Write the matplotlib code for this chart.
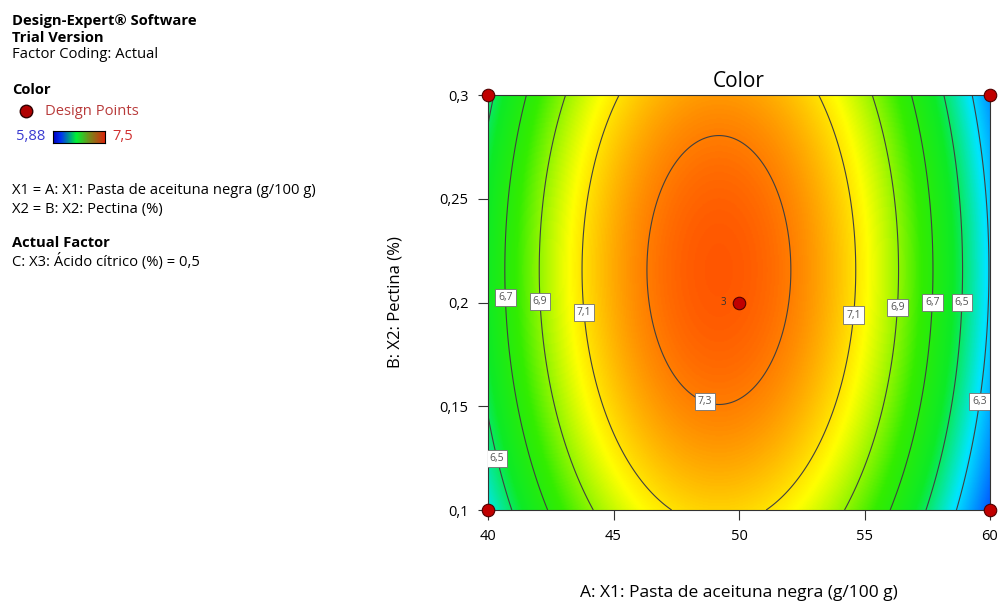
import numpy as np
import matplotlib
matplotlib.use('Agg')
import matplotlib.pyplot as plt
from matplotlib.colors import LinearSegmentedColormap

plt.rcParams['font.family'] = ['Open Sans', 'DejaVu Sans']

# factor ranges (actual units)
a_range = [40, 60]
b_range = [0.1, 0.3]

# fitted quadratic model in coded factors (C held at 0,5)
b0 = 7.366
bA = -0.149
bB = 0.057
bAB = 0.0
bAA = -0.93
bBB = -0.182

color_min = 5.88
color_max = 7.5

contour_levels = [6.3, 6.5, 6.7, 6.9, 7.1, 7.3]
label_pos = [(40.4, 0.125), (40.78, 0.2025), (42.16, 0.2004), (43.93, 0.1953),
             (48.78, 0.1566), (54.55, 0.194), (56.28, 0.1977), (57.7, 0.2),
             (58.9, 0.2), (59.57, 0.1525)]

design_a = [40, 40, 60, 60, 50]
design_b = [0.1, 0.3, 0.1, 0.3, 0.2]
design_n = [1, 1, 1, 1, 3]

x_ticks = [40, 45, 50, 55, 60]
y_ticks = [0.1, 0.15, 0.2, 0.25, 0.3]


def dec(v):
    return ('%g' % v).replace('.', ',')


def response(A, B):
    xa = (A - 50) / 10.0
    xb = (B - 0.2) / 0.1
    return b0 + bA * xa + bB * xb + bAB * xa * xb + bAA * xa ** 2 + bBB * xb ** 2


de_cmap = LinearSegmentedColormap.from_list('de', [
    (0.0, (0.0, 0.0, 1.0)),
    (0.27, (0.0, 0.9, 1.0)),
    (0.42, (0.05, 0.92, 0.15)),
    (0.55, (0.2, 0.93, 0.0)),
    (0.72, (1.0, 1.0, 0.0)),
    (0.85, (1.0, 0.58, 0.0)),
    (1.0, (1.0, 0.1, 0.0)),
])
# small gradient swatch shown in the legend
legend_cmap = LinearSegmentedColormap.from_list('de_legend', [
    (0.0, (0.0, 0.0, 0.75)),
    (0.15, (0.0, 0.2, 0.95)),
    (0.45, (0.0, 0.95, 0.2)),
    (0.7, (0.45, 0.55, 0.1)),
    (1.0, (0.85, 0.15, 0.05)),
])

aa = np.linspace(a_range[0], a_range[1], 400)
bb = np.linspace(b_range[0], b_range[1], 400)
AA, BB = np.meshgrid(aa, bb)
Z = response(AA, BB)

fig = plt.figure(figsize=(10, 6.01), dpi=100)
ax = fig.add_axes([0.488, 0.1514, 0.502, 0.6905])

ax.imshow(Z, extent=[a_range[0], a_range[1], b_range[0], b_range[1]], origin='lower',
          aspect='auto', cmap=de_cmap, vmin=color_min, vmax=color_max, interpolation='bilinear')
cs = ax.contour(AA, BB, Z, levels=contour_levels, colors='#404040', linewidths=0.8)
labels = ax.clabel(cs, contour_levels, manual=label_pos, inline=False, fontsize=7.5,
                   fmt=lambda v: dec(round(v, 1)), colors='#555555')
for t in labels:
    t.set_rotation(0)
    t.set_bbox(dict(facecolor='white', edgecolor='#707070', linewidth=0.6, pad=2.2))
    t.set_zorder(5)

ax.plot(design_a, design_b, 'o', color='#c00000', markeredgecolor='#500000',
        markersize=9, markeredgewidth=0.8, clip_on=False, zorder=6)
for a, b, n in zip(design_a, design_b, design_n):
    if n > 1:
        ax.annotate(str(n), (a, b), xytext=(-9, 0), textcoords='offset points',
                    ha='right', va='center', fontsize=7, color='#333333', zorder=6)

ax.set_xlim(a_range)
ax.set_ylim(b_range)
ax.set_xticks(x_ticks)
ax.set_xticklabels([dec(v) for v in x_ticks], fontsize=10.5)
ax.set_yticks(y_ticks)
ax.set_yticklabels([dec(v) for v in y_ticks], fontsize=10.5)
ax.tick_params(direction='out', length=7, width=0.8, color='#333333', pad=7)
for s in ax.spines.values():
    s.set_color('#333333')
    s.set_linewidth(0.8)

ax.set_title('Color', fontsize=15, pad=6)
ax.set_xlabel('A: X1: Pasta de aceituna negra (g/100 g)', fontsize=12.5, labelpad=29)
ax.set_ylabel('B: X2: Pectina (%)', fontsize=12, labelpad=26)

# info panel on the left
def px(y):
    return 1 - y / 601.0

fs = 10.6
fig.text(0.012, px(21), 'Design-Expert® Software', fontsize=fs, weight='bold', va='center')
fig.text(0.012, px(38), 'Trial Version', fontsize=fs, weight='bold', va='center')
fig.text(0.012, px(55), 'Factor Coding: Actual', fontsize=fs, va='center')
fig.text(0.012, px(90), 'Color', fontsize=fs, weight='bold', va='center')
fig.lines.append(plt.Line2D([0.026], [px(111)], marker='o', markersize=9,
                            color='#b00000', markeredgecolor='#300000',
                            transform=fig.transFigure, figure=fig))
fig.text(0.045, px(111), 'Design Points', fontsize=fs, color='#b83a3a', va='center')
fig.text(0.016, px(137), dec(color_min), fontsize=fs, color='#3a3ad0', va='center')
fig.text(0.112, px(137), dec(color_max), fontsize=fs, color='#d03030', va='center')
cax = fig.add_axes([0.053, px(143), 0.052, 12 / 601.0])
cax.imshow(np.linspace(0, 1, 100)[None, :], aspect='auto', cmap=legend_cmap)
cax.set_xticks([])
cax.set_yticks([])
for s in cax.spines.values():
    s.set_linewidth(0.8)

fig.text(0.012, px(191), 'X1 = A: X1: Pasta de aceituna negra (g/100 g)', fontsize=fs, va='center')
fig.text(0.012, px(210), 'X2 = B: X2: Pectina (%)', fontsize=fs, va='center')
fig.text(0.012, px(243), 'Actual Factor', fontsize=fs, weight='bold', va='center')
fig.text(0.012, px(261), 'C: X3: Ácido cítrico (%) = 0,5', fontsize=fs, va='center')

fig.savefig('out.png', dpi=100)
